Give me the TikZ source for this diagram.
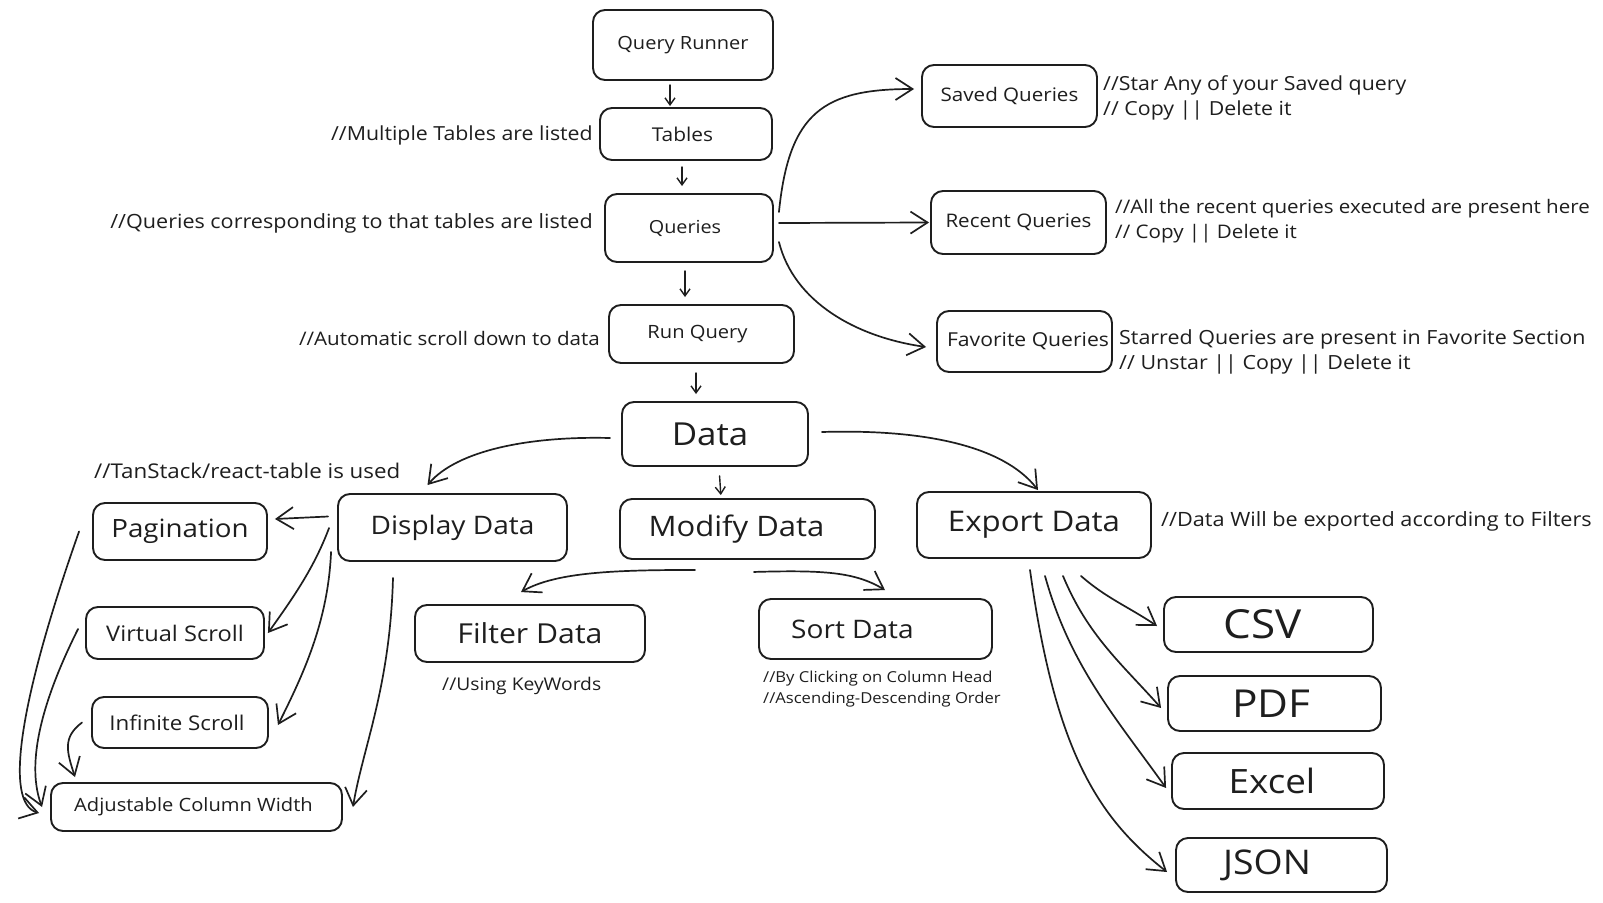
\documentclass[tikz,border=0pt]{standalone}
\usepackage{fontspec}
\setmainfont[FakeStretch=1.1]{Open Sans}
\usetikzlibrary{arrows.meta}
\definecolor{ink}{HTML}{1E1E1E}
\newcommand{\fsz}[1]{\fontsize{#1}{#1}\selectfont}
\begin{document}
\begin{tikzpicture}[x=1pt,y=-1pt,
  box/.style={draw=ink, line width=1.9pt, rounded corners=12pt, inner sep=0pt, align=center, text=ink},
  note/.style={text=ink, inner sep=0pt, align=left},
  arr/.style={draw=ink, line width=1.7pt, line cap=round, -{Straight Barb[length=17pt,width=22pt]}},
  sarr/.style={draw=ink, line width=1.4pt, line cap=round, -{Straight Barb[length=7pt,width=10pt]}}
]
\fill[white] (0,0) rectangle (1603,902);
\useasboundingbox (0,0) rectangle (1603,902);

% top column
\node[box, font=\fsz{18.2}, minimum width=180pt, minimum height=70pt] (qr) at (683,45) {Query Runner};
\node[box, font=\fsz{19}, minimum width=172pt, minimum height=52pt] (tables) at (686,134) {Tables\hspace*{7pt}};
\node[box, font=\fsz{18}, minimum width=168pt, minimum height=68pt] (queries) at (689,228) {Queries\hspace*{8pt}};
\node[box, font=\fsz{18.3}, minimum width=185pt, minimum height=58pt] (runq) at (701.5,334) {Run Query\hspace*{8pt}};
\node[box, font=\fsz{18.7}, minimum width=175pt, minimum height=62pt] (saved) at (1009.5,96) {Saved Queries};
\node[box, font=\fsz{18.7}, minimum width=175pt, minimum height=63pt] (recent) at (1018.5,222.5) {Recent Queries};
\node[box, font=\fsz{19.2}, minimum width=175pt, minimum height=61pt] (fav) at (1024.5,341.5) {\hspace*{7pt}Favorite Queries};
\node[box, font=\fsz{31.7}, minimum width=186pt, minimum height=64pt] (data) at (715,434) {Data\hspace*{10pt}};

% second level
\node[box, font=\fsz{25.5}, minimum width=229pt, minimum height=67pt] (display) at (452.5,527.5) {Display Data};
\node[box, font=\fsz{28.2}, minimum width=255pt, minimum height=60pt] (modify) at (747.5,529) {Modify Data\hspace*{22pt}};
\node[box, font=\fsz{28.4}, minimum width=234pt, minimum height=66pt] (export) at (1034,525) {Export Data};

% display children
\node[box, font=\fsz{25.2}, minimum width=174pt, minimum height=57pt] (pag) at (180,531.5) {Pagination};
\node[box, font=\fsz{21.5}, minimum width=178pt, minimum height=52pt] (virt) at (175,633) {Virtual Scroll};
\node[box, font=\fsz{20.3}, minimum width=176pt, minimum height=51pt] (inf) at (180,722.5) {Infinite Scroll\hspace*{6pt}};
\node[box, font=\fsz{18.3}, minimum width=291pt, minimum height=48pt] (adj) at (196.5,807) {Adjustable Column Width\hspace*{6pt}};

% modify children
\node[box, font=\fsz{27.5}, minimum width=230pt, minimum height=57pt] (filter) at (530,633.5) {Filter Data};
\node[box, font=\fsz{25.5}, minimum width=233pt, minimum height=60pt] (sort) at (875.5,629) {Sort Data\hspace*{46pt}};

% export children
\node[box, font=\fsz{40}, minimum width=209pt, minimum height=55pt] (csv) at (1268.5,624.5) {CSV\hspace*{12pt}};
\node[box, font=\fsz{38.5}, minimum width=213pt, minimum height=55pt] (pdf) at (1274.5,703.5) {PDF\hspace*{6pt}};
\node[box, font=\fsz{33.5}, minimum width=212pt, minimum height=56pt] (excel) at (1278,781) {Excel\hspace*{12pt}};
\node[box, font=\fsz{34}, minimum width=211pt, minimum height=54pt] (json) at (1281.5,865) {JSON\hspace*{29pt}};

% annotations
\node[note, font=\fsz{19.4}, anchor=east] (n1) at (593,135) {//Multiple Tables are listed};
\node[note, font=\fsz{19.6}, anchor=east] (n2) at (593,223) {//Queries corresponding to that tables are listed};
\node[note, font=\fsz{18.7}, anchor=east] (n3) at (600,338) {//Automatic scroll down to data};
\node[note, font=\fontsize{19.4}{24.5}\selectfont, anchor=west] (n4) at (1103,98) {//Star Any of your Saved query\\// Copy || Delete it};
\node[note, font=\fontsize{18.7}{24.5}\selectfont, anchor=west] (n5) at (1115,221) {//All the recent queries executed are present here\\// Copy || Delete it};
\node[note, font=\fontsize{19.5}{24.5}\selectfont, anchor=west] (n6) at (1119,352) {Starred Queries are present in Favorite Section\\// Unstar || Copy || Delete it};
\node[note, font=\fsz{20.3}, anchor=west] (n7) at (94,471) {//TanStack/react-table is used};
\node[note, font=\fsz{17.5}, anchor=west] (n8) at (442,686) {//Using KeyWords};
\node[note, font=\fontsize{15.1}{21}\selectfont, anchor=west] (n9) at (763,689) {//By Clicking on Column Head\\//Ascending-Descending Order};
\node[note, font=\fsz{19.7}, anchor=west] (n10) at (1161,521) {//Data Will be exported according to Filters};

% vertical chain
\draw[sarr, shorten <=4pt, shorten >=1pt] ([xshift=-13pt]qr.south) -- ([xshift=-16pt]tables.north);
\draw[sarr, shorten <=6pt, shorten >=7pt] ([xshift=-4pt]tables.south) -- ([xshift=-7pt]queries.north);
\draw[sarr, shorten <=8pt, shorten >=7pt] ([xshift=-4pt]queries.south) -- ([xshift=-16.5pt]runq.north);
\draw[sarr, shorten <=9pt, shorten >=7pt] ([xshift=-5.5pt]runq.south) -- ([xshift=-19pt]data.north);

% queries to side boxes
\draw[arr] ([xshift=5pt,yshift=16pt]queries.east) .. controls +(10,-100) and +(-90,0) .. ([xshift=-7pt,yshift=7pt]saved.west);
\draw[arr] ([xshift=5pt,yshift=5pt]queries.east) -- ([xshift=-1pt]recent.west);
\draw[arr] ([xshift=5pt,yshift=-14pt]queries.east) .. controls +(15,60) and +(-70,-10) .. ([xshift=-10pt,yshift=-5.5pt]fav.west);

% data to second level
\draw[arr] ([xshift=-11pt,yshift=-4pt]data.west) .. controls +(-80,-2) and +(30,-35) .. ([xshift=-25pt,yshift=8pt]display.north);
\draw[sarr, shorten <=9pt, shorten >=3pt] ([xshift=4pt]data.south) -- ([xshift=-26.5pt]modify.north);
\draw[arr] ([xshift=13pt,yshift=2pt]data.east) .. controls +(100,-3) and +(-35,-45) .. ([xshift=4pt,yshift=1pt]export.north);

% display children
\draw[arr] ([xshift=-9pt,yshift=11pt]display.west) -- ([xshift=7pt,yshift=12.5pt]pag.east);
\draw[arr] ([xshift=-8pt,yshift=-0.5pt]display.west) .. controls +(-15,40) and +(25,-35) .. ([xshift=3pt]virt.east);
\draw[arr] ([xshift=-6pt,yshift=-24.5pt]display.west) .. controls +(-3,70) and +(25,-50) .. ([xshift=9pt,yshift=-2.5pt]inf.east);
\draw[arr] ([xshift=-59.5pt,yshift=-16pt]display.south) .. controls +(-3,110) and +(10,-60) .. ([xshift=10pt]adj.east);
\draw[arr] ([xshift=-13pt]pag.west) .. controls +(-60,170) and +(-35,-10) .. ([xshift=-11pt,yshift=-6pt]adj.west);
\draw[arr] ([xshift=-7pt,yshift=4pt]virt.west) .. controls +(-40,80) and +(-15,-40) .. ([xshift=-8pt]adj.west);
\draw[arr] ([xshift=-9pt]inf.west) .. controls +(-20,15) and +(-8,-25) .. ([xshift=-121.5pt,yshift=5pt]adj.north);

% modify children
\draw[arr] ([xshift=-52.5pt,yshift=-10pt]modify.south) .. controls +(-80,0) and +(35,-20) .. ([xshift=-9pt,yshift=12pt]filter.north);
\draw[arr] ([xshift=6.5pt,yshift=-12pt]modify.south) .. controls +(70,-2) and +(-30,-18) .. ([xshift=9.5pt,yshift=8pt]sort.north);

% export children
\draw[arr] ([xshift=47pt,yshift=-17pt]export.south) .. controls +(25,22) and +(-30,-20) .. ([xshift=-6pt,yshift=-1.5pt]csv.west);
\draw[arr] ([xshift=29pt,yshift=-17pt]export.south) .. controls +(25,60) and +(-40,-45) .. ([xshift=-6pt,yshift=-4.5pt]pdf.west);
\draw[arr] ([xshift=11pt,yshift=-17pt]export.south) .. controls +(25,90) and +(-50,-70) .. ([xshift=-5pt,yshift=-7pt]excel.west);
\draw[arr] ([xshift=-4pt,yshift=-11pt]export.south) .. controls +(25,180) and +(-70,-55) .. ([xshift=-8pt,yshift=-7pt]json.west);
\end{tikzpicture}
\end{document}
